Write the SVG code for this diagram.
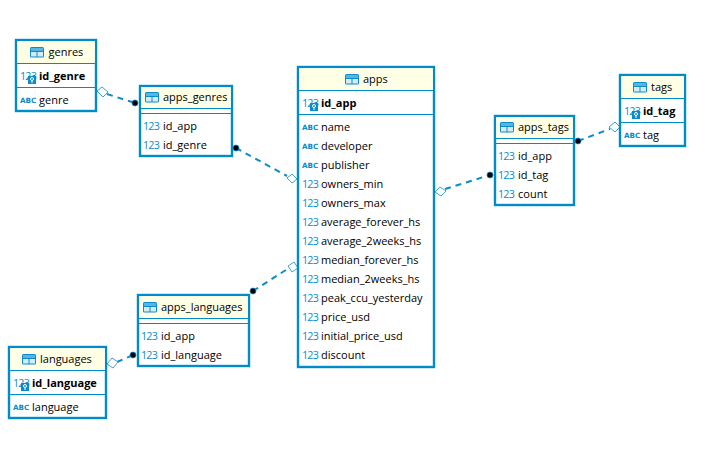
<svg xmlns="http://www.w3.org/2000/svg" xmlns:xlink="http://www.w3.org/1999/xlink" width="705" height="453" viewBox="0 0 705 453">
<style>
text{font-family:"Open Sans","Noto Sans",sans-serif;font-size:11px;fill:#000}
.box{fill:#fff;stroke:#008cc8;stroke-width:2.4}
.head{fill:#ffffe6}
.sep{stroke:#008cc8;stroke-width:1;fill:none}
.b{font-weight:700}
.n{font-size:10.800px;letter-spacing:-0.8px;fill:#0a8ccc}
.a{font-family:"DejaVu Sans",sans-serif;font-size:7.200px;font-weight:700;fill:#0a8ccc}
.c{stroke:#0a8ccc;stroke-width:2;stroke-dasharray:6 5;fill:none}
.d{fill:#fff;stroke:#3ba3d8;stroke-width:1}
.f{fill:#000;stroke:#0a8ccc;stroke-width:.8}
</style>
<defs>
<g id="tbl"><rect x="0" y="0" width="14" height="10.500" rx="1.500" fill="#0a8ccc"/><rect x="1" y="1" width="12" height="3" fill="#55b5e5"/><rect x="1" y="5" width="5.500" height="4.500" fill="#d5ecf8"/><rect x="7.500" y="5" width="5.500" height="4.500" fill="#d5ecf8"/></g>
<g id="key"><rect x="0" y="0" width="8" height="8" fill="#0a8ccc"/><circle cx="4" cy="3" r="1.500" fill="none" stroke="#fff" stroke-width="1"/><path d="M4 4.500V7" stroke="#fff" stroke-width="1"/></g>
</defs>
<g id="connectors">
<path class="c" d="M107 94L135 103"/>
<path class="c" d="M236 148L287 176"/>
<path class="c" d="M253 291L289 268"/>
<path class="c" d="M445 189L490 175"/>
<path class="c" d="M578 141L610 129"/>
<path class="c" d="M117 362L133 355"/>
<path class="d" d="M97 91L102 87L108 92L103 97Z"/>
<path class="d" d="M287 178L292 174L297 179L292 183Z"/>
<path class="d" d="M288 266L294 262L298 268L292 272Z"/>
<path class="d" d="M435 192L440 187L446 191L441 196Z"/>
<path class="d" d="M609 127L615 122L620 127L615 132Z"/>
<path class="d" d="M107 364L112 358L118 362L113 368Z"/>
<circle class="f" cx="135" cy="103" r="3"/>
<circle class="f" cx="236" cy="148" r="3"/>
<circle class="f" cx="253" cy="291" r="3"/>
<circle class="f" cx="490" cy="175" r="3"/>
<circle class="f" cx="578" cy="141" r="3"/>
<circle class="f" cx="133" cy="355" r="3"/>
</g>
<g id="genres">
<rect class="box" x="16" y="40" width="80" height="71"/><rect class="head" x="17.200" y="41.200" width="77.600" height="21.800"/>
<path class="sep" d="M16 63.500H96M16 87.500H96"/>
<use xlink:href="#tbl" x="30" y="47"/><text x="48.500" y="56">genres</text>
<text class="n" x="20" y="80">123</text><use xlink:href="#key" x="28" y="76"/><text class="b" x="39" y="80">id_genre</text>
<text class="a" x="20" y="103">ABC</text><text x="39" y="104">genre</text>
</g>
<g id="apps_genres">
<rect class="box" x="140" y="86" width="92" height="70"/><rect class="head" x="141.200" y="87.200" width="89.600" height="20.800"/>
<path class="sep" d="M140 108.500H232M140 113.500H232"/>
<use xlink:href="#tbl" x="145" y="92"/><text x="163" y="101">apps_genres</text>
<text class="n" x="143" y="130">123</text><text x="163" y="130">id_app</text>
<text class="n" x="143" y="149">123</text><text x="163" y="149">id_genre</text>
</g>
<g id="apps">
<rect class="box" x="298" y="67" width="136" height="300"/><rect class="head" x="299.200" y="68.200" width="133.600" height="21.800"/>
<path class="sep" d="M298 90.500H434M298 114.500H434"/>
<use xlink:href="#tbl" x="345" y="74"/><text x="363" y="83">apps</text>
<text class="n" x="302" y="107">123</text><use xlink:href="#key" x="310" y="103"/><text class="b" x="321" y="107">id_app</text>
<text class="a" x="302" y="130">ABC</text><text x="321" y="131">name</text>
<text class="a" x="302" y="149">ABC</text><text x="321" y="150">developer</text>
<text class="a" x="302" y="168">ABC</text><text x="321" y="169">publisher</text>
<text class="n" x="302" y="188">123</text><text x="321" y="188">owners_min</text>
<text class="n" x="302" y="207">123</text><text x="321" y="207">owners_max</text>
<text class="n" x="302" y="226">123</text><text x="321" y="226">average_forever_hs</text>
<text class="n" x="302" y="245">123</text><text x="321" y="245">average_2weeks_hs</text>
<text class="n" x="302" y="264">123</text><text x="321" y="264">median_forever_hs</text>
<text class="n" x="302" y="283">123</text><text x="321" y="283">median_2weeks_hs</text>
<text class="n" x="302" y="302">123</text><text x="321" y="302">peak_ccu_yesterday</text>
<text class="n" x="302" y="321">123</text><text x="321" y="321">price_usd</text>
<text class="n" x="302" y="340">123</text><text x="321" y="340">initial_price_usd</text>
<text class="n" x="302" y="359">123</text><text x="321" y="359">discount</text>
</g>
<g id="apps_tags">
<rect class="box" x="495" y="116" width="79" height="89"/><rect class="head" x="496.200" y="117.200" width="76.600" height="20.800"/>
<path class="sep" d="M495 138.500H574M495 143.500H574"/>
<use xlink:href="#tbl" x="500" y="122"/><text x="518" y="131">apps_tags</text>
<text class="n" x="498" y="160">123</text><text x="518" y="160">id_app</text>
<text class="n" x="498" y="179">123</text><text x="518" y="179">id_tag</text>
<text class="n" x="498" y="198">123</text><text x="518" y="198">count</text>
</g>
<g id="tags">
<rect class="box" x="620" y="75" width="65" height="71"/><rect class="head" x="621.200" y="76.200" width="62.600" height="21.800"/>
<path class="sep" d="M620 98.500H685M620 122.500H685"/>
<use xlink:href="#tbl" x="633" y="82"/><text x="651" y="91">tags</text>
<text class="n" x="624" y="115">123</text><use xlink:href="#key" x="632" y="111"/><text class="b" x="643" y="115">id_tag</text>
<text class="a" x="624" y="138">ABC</text><text x="643" y="139">tag</text>
</g>
<g id="apps_languages">
<rect class="box" x="138" y="295" width="111" height="71"/><rect class="head" x="139.200" y="296.200" width="108.600" height="21.800"/>
<path class="sep" d="M138 318.500H249M138 323.500H249"/>
<use xlink:href="#tbl" x="143" y="302"/><text x="161" y="311">apps_languages</text>
<text class="n" x="141" y="340">123</text><text x="161" y="340">id_app</text>
<text class="n" x="141" y="359">123</text><text x="161" y="359">id_language</text>
</g>
<g id="languages">
<rect class="box" x="9" y="347" width="97" height="71"/><rect class="head" x="10.200" y="348.200" width="94.600" height="21.800"/>
<path class="sep" d="M9 370.500H106M9 394.500H106"/>
<use xlink:href="#tbl" x="22" y="354"/><text x="40" y="363">languages</text>
<text class="n" x="13" y="387">123</text><use xlink:href="#key" x="21" y="383"/><text class="b" x="32" y="387">id_language</text>
<text class="a" x="13" y="410">ABC</text><text x="32" y="411">language</text>
</g>
</svg>
